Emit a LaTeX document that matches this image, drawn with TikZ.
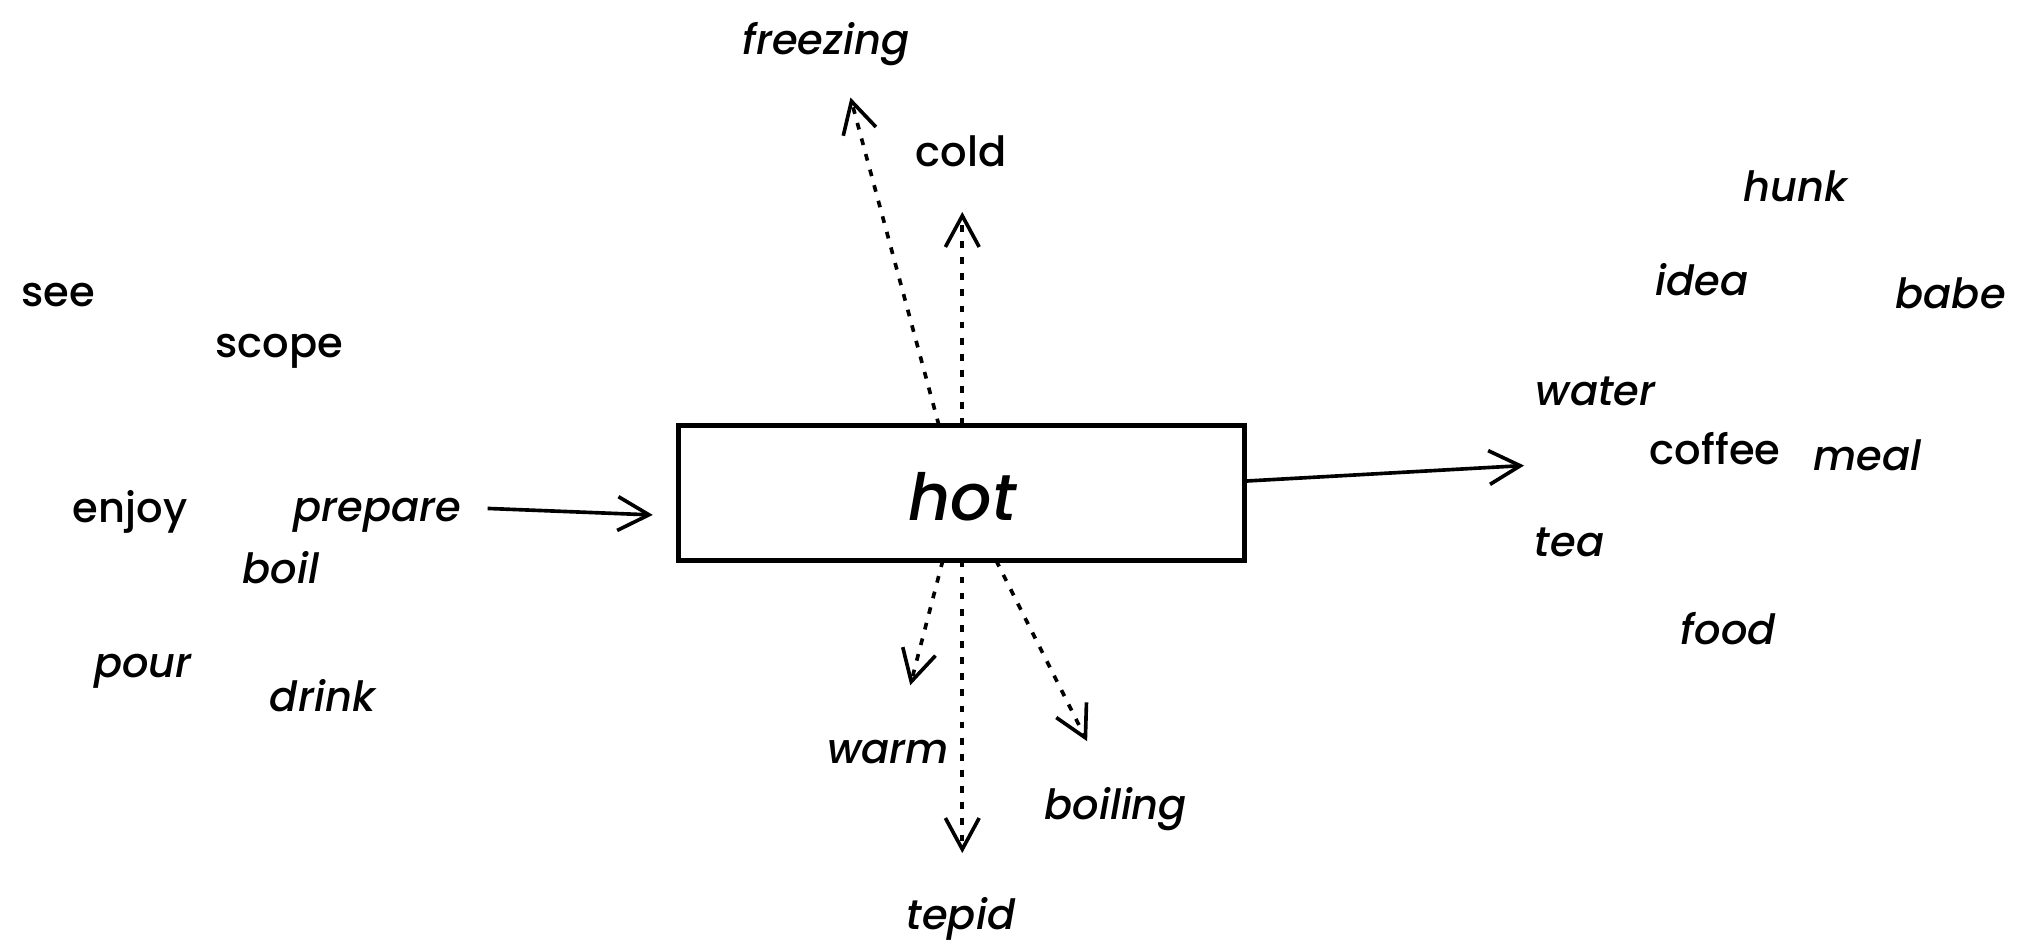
\documentclass[tikz,border=0pt]{standalone}
\usepackage{fontspec}
\setmainfont{Poppins}[UprightFont=* Medium,ItalicFont=* Medium Italic]
\usetikzlibrary{arrows.meta}
\begin{document}
\begin{tikzpicture}[x=0.5pt,y=-0.5pt,
  word/.style={anchor=base,inner sep=0pt,font=\fontsize{16}{19}\selectfont\itshape},
  uword/.style={anchor=base,inner sep=0pt,font=\fontsize{16}{19}\selectfont\upshape},
  hotbox/.style={draw,line width=1.9pt,minimum width=217.5pt,minimum height=52pt,inner sep=0pt},
  link/.style={line width=1.4pt,-{Straight Barb[length=12pt,width=13pt,line width=1.4pt]}},
  dotlink/.style={link,dash pattern=on 2.6pt off 3.6pt}]
\useasboundingbox (0,0) rectangle (1568,726);
% central box
\node[hotbox] (hot) at (739.5,379) {};
\node[anchor=base,inner sep=0pt,font=\fontsize{25}{30}\selectfont\itshape] (hotlabel) at (740,400) {hot};
% top and bottom words
\node[word] (freezing) at (635,42) {freezing};
\node[uword] (cold) at (739,128) {cold};
\node[word] (warm) at (683,587) {warm};
\node[word] (boiling) at (858,630) {boiling};
\node[word] (tepid) at (739,715) {tepid};
% left words
\node[uword] (see) at (45,236) {see};
\node[uword] (scope) at (215,275) {scope};
\node[uword] (enjoy) at (100,402) {enjoy};
\node[word] (prepare) at (290,401) {prepare};
\node[word] (boil) at (216,449) {boil};
\node[word] (pour) at (110,521) {pour};
\node[word] (drink) at (248,547) {drink};
% right words
\node[word] (hunk) at (1381,155) {hunk};
\node[word] (idea) at (1309,227) {idea};
\node[word] (babe) at (1500,237) {babe};
\node[word] (water) at (1227,312) {water};
\node[uword] (coffee) at (1319,357) {coffee};
\node[word] (meal) at (1436,362) {meal};
\node[word] (tea) at (1207,428) {tea};
\node[word] (food) at (1329,496) {food};
% connector ends
\coordinate (inS) at (378,391);
\coordinate (inE) at (502,396);
\coordinate (outS) at (957,370);
\coordinate (outE) at (1172,358);
\coordinate (fzS) at (722,327);
\coordinate (fzE) at (654,75);
\coordinate (cdS) at (740,327);
\coordinate (cdE) at (740,163);
\coordinate (wmS) at (725,431);
\coordinate (wmE) at (700,527);
\coordinate (tpS) at (740,431);
\coordinate (tpE) at (740,656);
\coordinate (blS) at (766,431);
\coordinate (blE) at (836,570);
% connectors
\draw[link] (prepare.east |- inS) ++(20,0) -- (inE);
\draw[link] (outS) -- (outE);
\draw[dotlink] (fzS) -- (fzE);
\draw[dotlink] (cdS) -- (cdE);
\draw[dotlink] (wmS) -- (wmE);
\draw[dotlink] (tpS) -- (tpE);
\draw[dotlink] (blS) -- (blE);
\end{tikzpicture}
\end{document}
